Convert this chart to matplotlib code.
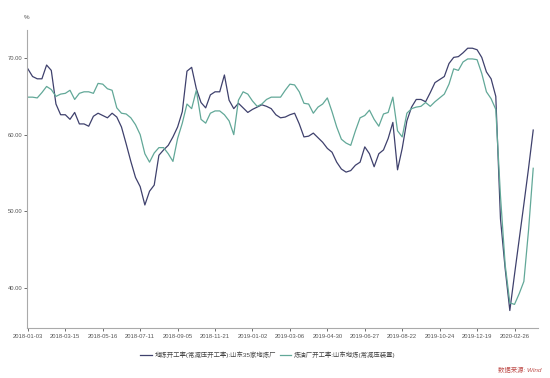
import matplotlib
matplotlib.use("Agg")
import matplotlib.pyplot as plt
import numpy as np

plt.rcParams['font.family'] = ['Liberation Sans', 'Noto Sans CJK SC', 'DejaVu Sans']

tick_labels = ["2018-01-03", "2018-03-15", "2018-05-16", "2018-07-11", "2018-09-05",
               "2018-11-21", "2019-01-02", "2019-03-06", "2019-04-30", "2019-06-27",
               "2019-08-22", "2019-10-24", "2019-12-19", "2020-02-26"]
tick_step = 8

series1_name = "地炼开工率(常减压开工率):山东35家地炼厂"
series1 = [68.6, 67.6, 67.3, 67.3, 69.1, 68.4, 64.0, 62.6, 62.6, 62.0,
           62.9, 61.4, 61.4, 61.1, 62.4, 62.8, 62.5, 62.2, 62.8, 62.3,
           61.0, 58.8, 56.5, 54.4, 53.2, 50.8, 52.6, 53.4, 57.3, 58.0,
           58.6, 59.7, 61.0, 63.0, 68.3, 68.8, 66.0, 64.2, 63.5, 65.2,
           65.6, 65.6, 67.8, 64.5, 63.4, 64.1, 63.5, 62.9, 63.3, 63.6,
           63.9, 63.7, 63.4, 62.6, 62.2, 62.3, 62.6, 62.8, 61.4, 59.7,
           59.8, 60.2, 59.6, 59.0, 58.2, 57.7, 56.4, 55.5, 55.1, 55.3,
           56.0, 56.4, 58.4, 57.5, 55.8, 57.5, 58.0, 59.5, 61.6, 55.4,
           58.2, 61.8, 63.6, 64.6, 64.6, 64.3, 65.5, 66.8, 67.2, 67.6,
           69.3, 70.1, 70.2, 70.7, 71.3, 71.3, 71.1, 70.1, 68.2, 67.3,
           65.0, 49.0, 42.5, 37.0, 41.7, 46.3, 50.9, 55.6, 60.6]

series2_name = "炼油厂开工率:山东地炼(常减压装置)"
series2 = [64.9, 64.9, 64.8, 65.5, 66.3, 65.9, 65.0, 65.3, 65.4, 65.8,
           64.6, 65.4, 65.6, 65.6, 65.4, 66.7, 66.6, 66.0, 65.8, 63.5,
           62.8, 62.7, 62.2, 61.3, 60.0, 57.5, 56.4, 57.6, 58.3, 58.3,
           57.5, 56.5, 59.5, 61.5, 64.0, 63.4, 65.8, 62.0, 61.5, 62.8,
           63.1, 63.1, 62.6, 61.8, 60.0, 64.5, 65.6, 65.3, 64.4, 63.7,
           64.0, 64.6, 64.9, 64.9, 64.9, 65.8, 66.6, 66.5, 65.6, 64.1,
           64.0, 62.8, 63.6, 64.0, 64.8, 63.0, 61.0, 59.4, 58.9, 58.6,
           60.5, 62.2, 62.5, 63.2, 62.0, 61.1, 62.7, 62.9, 64.9, 60.5,
           59.7, 62.8, 63.4, 63.6, 63.7, 64.2, 63.7, 64.3, 64.8, 65.3,
           66.6, 68.6, 68.4, 69.5, 69.9, 69.9, 69.8, 68.0, 65.6, 64.7,
           63.3, 52.0, 43.0, 38.0, 37.8, 39.2, 40.8, 47.5, 55.6]

y_ticks = [40, 50, 60, 70]

c1 = '#3f416d'
c2 = '#62a898'

fig = plt.figure(figsize=(5.5, 3.78), dpi=100)
ax = fig.add_axes([0.049, 0.132, 0.929, 0.789])

x1 = np.arange(len(series1))
x2 = np.arange(len(series2))
ax.plot(x1, series1, color=c1, lw=0.9, label=series1_name)
ax.plot(x2, series2, color=c2, lw=0.9, label=series2_name)

ax.set_xlim(-0.2, 109)
ax.set_ylim(34.7, 73.7)
ax.set_xticks(np.arange(len(tick_labels)) * tick_step)
ax.set_xticklabels(tick_labels)
ax.set_yticks(y_ticks)
ax.set_yticklabels([f"{v:.2f}" for v in y_ticks])

for s in ['top', 'right']:
    ax.spines[s].set_visible(False)
for s in ['left', 'bottom']:
    ax.spines[s].set_color('#aaaaaa')
    ax.spines[s].set_linewidth(0.8)
ax.tick_params(axis='both', labelsize=4.2, colors='#555555', length=2, width=0.6, pad=1.5)
ax.tick_params(axis='x', pad=2)

fig.text(0.049, 0.955, "%", fontsize=4.5, color='#555555', ha='center', va='center')

fig.legend(loc='center', bbox_to_anchor=(0.487, 0.061), ncol=2, frameon=False,
           fontsize=4.6, handlelength=1.8, columnspacing=0.6, handletextpad=0.4,
           labelcolor='#444444')

fig.text(0.985, 0.022, "数据来源: Wind", fontsize=4.6, color='#c0504d',
         style='italic', ha='right', va='center')

fig.savefig("out.png", dpi=100)
